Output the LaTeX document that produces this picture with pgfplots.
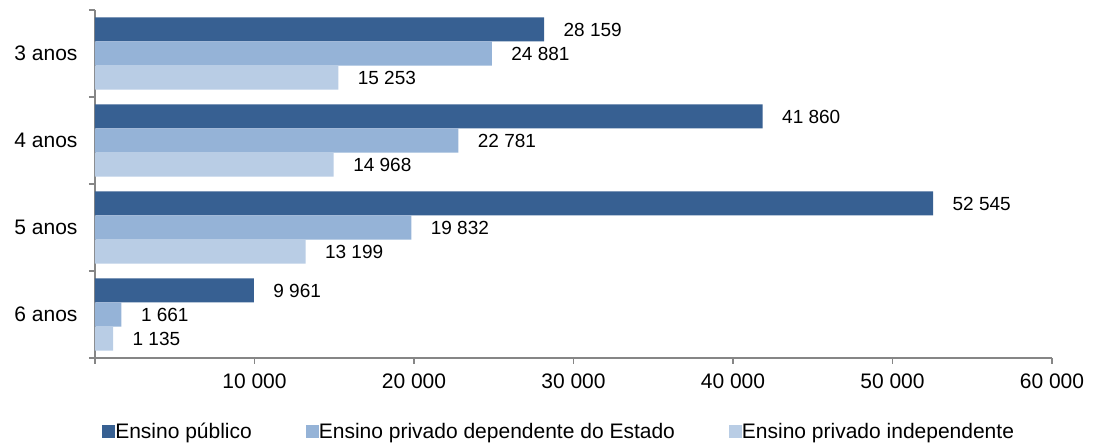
\documentclass[border=0pt]{standalone}
\usepackage{pgfplots}
\pgfplotsset{compat=1.18}
\usepackage{fontspec}
\setmainfont{Liberation Sans}
\definecolor{cpub}{HTML}{376092}
\definecolor{cdep}{HTML}{95B3D7}
\definecolor{cind}{HTML}{B9CDE5}
\definecolor{axgray}{HTML}{868686}
\begin{document}
\begin{tikzpicture}
\begin{axis}[
  scale only axis,
  width=957pt, height=348pt,
  xbar, bar width=0.276,
  xmin=0, xmax=60000,
  ymin=-0.5, ymax=3.5,
  axis x line*=bottom, axis y line*=left,
  axis line style={-, draw=axgray, line width=1.2pt},
  tick align=outside,
  major tick length=6pt,
  tick style={draw=axgray, line width=1.2pt},
  scaled ticks=false,
  tick label style={font=\fontsize{21}{25}\selectfont},
  xtick={0,10000,20000,30000,40000,50000,60000},
  xticklabels={{},{10 000},{20 000},{30 000},{40 000},{50 000},{60 000}},
  xticklabel style={yshift=-6pt},
  ytick={-0.5,0.5,1.5,2.5,3.5},
  yticklabels={},
  extra y ticks={0,1,2,3},
  extra y tick labels={6 anos,5 anos,4 anos,3 anos},
  extra y tick style={major tick length=0pt, yticklabel style={xshift=-14pt}},
  /pgf/number format/assume math mode=true,
  nodes near coords={\pgfmathprintnumber[fixed,precision=0,1000 sep={\ }]{\pgfplotspointmeta}},
  nodes near coords align={horizontal},
  every node near coord/.append style={font=\fontsize{19}{22}\selectfont, xshift=16pt, black},
  legend style={draw=none, at={(0.485,-0.2126)}, anchor=center, legend columns=3,
    font=\fontsize{21}{25}\selectfont, /tikz/every even column/.append style={column sep=52pt},
    /tikz/every odd column/.append style={column sep=-2pt}},
  legend image code/.code={\fill[#1,draw=none] (0pt,-6.5pt) rectangle (13pt,6.5pt);},
  clip=false,
]
\addplot[fill=cpub, draw=none, bar shift=0.276] coordinates {(28159,3) (41860,2) (52545,1) (9961,0)};
\addplot[fill=cdep, draw=none, bar shift=0] coordinates {(24881,3) (22781,2) (19832,1) (1661,0)};
\addplot[fill=cind, draw=none, bar shift=-0.276] coordinates {(15253,3) (14968,2) (13199,1) (1135,0)};
\legend{Ensino público, Ensino privado dependente do Estado, Ensino privado independente}
\coordinate (O) at (rel axis cs:0,0);
\end{axis}
\pgfresetboundingbox
\path (O) ++(-95pt,-88pt) rectangle ++(1094pt,446pt);
\end{tikzpicture}
\end{document}
